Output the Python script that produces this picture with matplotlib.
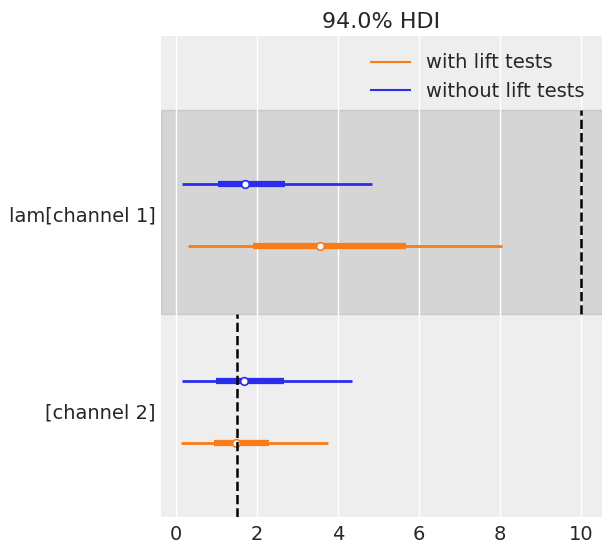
import matplotlib.pyplot as plt
from matplotlib.lines import Line2D

# forest plot values
labels = ["lam[channel 1]", "[channel 2]"]
models = ["with lift tests", "without lift tests"]
colors = {"with lift tests": "#fa7c17", "without lift tests": "#2a2eec"}

# per model: hdi 94% low/high, hdi 50% low/high, median  (channel 1, channel 2)
hdi94_low = {"with lift tests": [0.28, 0.11], "without lift tests": [0.14, 0.14]}
hdi94_high = {"with lift tests": [8.04, 3.74], "without lift tests": [4.83, 4.34]}
hdi50_low = {"with lift tests": [1.89, 0.93], "without lift tests": [1.03, 0.98]}
hdi50_high = {"with lift tests": [5.67, 2.29], "without lift tests": [2.68, 2.66]}
medians = {"with lift tests": [3.56, 1.48], "without lift tests": [1.70, 1.68]}
true_values = [10.0, 1.5]

# layout: row positions per model, band spans per variable
row_y = {"with lift tests": [1.332, 0.364], "without lift tests": [1.636, 0.668]}
spans = [(1.0, 2.0), (0.0, 1.0)]

plt.rcParams["font.family"] = "DejaVu Sans"
fig = plt.figure(figsize=(6.11, 5.51), dpi=100)
ax = fig.add_axes([0.2635, 0.0617, 0.7215, 0.873])
ax.set_facecolor("#eeeeee")
for s in ax.spines.values():
    s.set_visible(False)
ax.grid(True, axis="x", color="white", linewidth=1.0)
ax.set_axisbelow(True)

# shaded band for first variable
ax.axhspan(*spans[0], color="k", alpha=0.1, zorder=0.5)

for m in models:
    c = colors[m]
    for i in range(len(labels)):
        y = row_y[m][i]
        ax.plot([hdi94_low[m][i], hdi94_high[m][i]], [y, y], color=c, lw=2, solid_capstyle="butt", zorder=2)
        ax.plot([hdi50_low[m][i], hdi50_high[m][i]], [y, y], color=c, lw=4.5, solid_capstyle="butt", zorder=2)
        ax.plot(medians[m][i], y, "o", mfc="white", mec=c, ms=5.5, mew=1.2, zorder=3)

for i, tv in enumerate(true_values):
    ax.plot([tv, tv], list(spans[i]), color="k", ls="--", lw=1.8, zorder=4)

ax.set_xlim(-0.38, 10.52)
ax.set_ylim(0, 2.364)
ax.set_xticks([0, 2, 4, 6, 8, 10])
ax.set_yticks([(row_y[models[0]][i] + row_y[models[1]][i]) / 2 + 0.005 for i in range(len(labels))])
ax.set_yticklabels(labels)
ax.tick_params(axis="x", length=0, labelsize=14, labelcolor="#262626", pad=6)
ax.tick_params(axis="y", length=0, labelsize=14, labelcolor="#262626", pad=4)
ax.set_title("94.0% HDI", fontsize=16, color="#262626")

handles = [Line2D([], [], color=colors[m], lw=1.5) for m in models]
ax.legend(handles, models, loc="upper right", frameon=False, fontsize=14,
          labelcolor="#262626", bbox_to_anchor=(1.0, 1.0))

fig.savefig("out.png", dpi=100)
